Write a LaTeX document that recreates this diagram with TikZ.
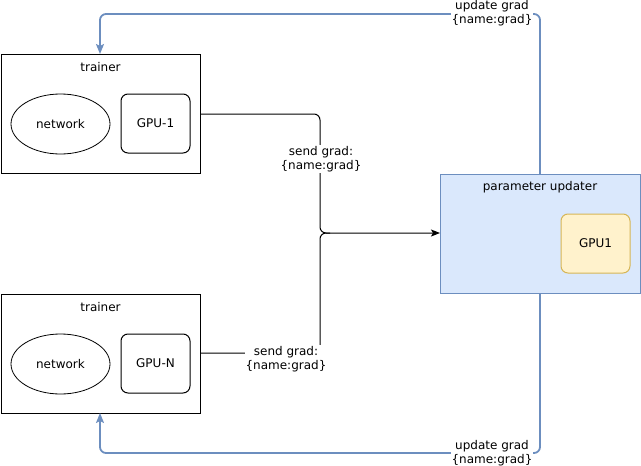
\documentclass[tikz,border=0pt]{standalone}
\usepackage{fontspec}
\setmainfont{DejaVu Sans}
\usetikzlibrary{arrows.meta}
\definecolor{blueline}{HTML}{6C8EBF}
\definecolor{bluefill}{HTML}{DAE8FC}
\definecolor{yelline}{HTML}{D6B656}
\definecolor{yelfill}{HTML}{FFF2CC}
\begin{document}
\begin{tikzpicture}[x=1pt,y=-1pt,
  every node/.style={font=\fontsize{12}{14}\selectfont, inner sep=0pt},
  box/.style={draw, line width=1pt},
  gpubox/.style={draw, rounded corners=7pt, line width=1pt},
  sendline/.style={draw, line width=1pt, rounded corners=6pt, -{Stealth[length=9pt,width=7pt,inset=2pt]}},
  updline/.style={draw=blueline, line width=1.8pt, rounded corners=6pt, -{Stealth[length=10pt,width=8pt,inset=2pt]}},
  lbl/.style={fill=white, align=center, inner sep=1pt}
]
\useasboundingbox (0,0) rectangle (641,466);
% trainer 1
\draw[box] (1,54) rectangle (200,173);
\node (t1) at (100.5,113.5) [minimum width=199pt, minimum height=119pt] {};
\node (t1title) at (100.5,67) {trainer};
\draw[line width=0.8pt] (60.5,124) ellipse (49.5pt and 30pt);
\node (net1) at (60.5,124) {network};
\draw[gpubox] (121,94) rectangle (190,153);
\node (gpu1) at (155.5,123.5) {GPU-1};
% trainer 2
\draw[box] (1,294) rectangle (200,413);
\node (t2) at (100.5,353.5) [minimum width=199pt, minimum height=119pt] {};
\node (t2title) at (100.5,307) {trainer};
\draw[line width=0.8pt] (60.5,364) ellipse (49.5pt and 30pt);
\node (net2) at (60.5,364) {network};
\draw[gpubox] (121,334) rectangle (190,393);
\node (gpun) at (155.5,363.5) {GPU-N};
% parameter updater
\draw[draw=blueline, fill=bluefill, line width=1pt] (440,174) rectangle (640,293);
\node (pu) at (540,233.5) [minimum width=200pt, minimum height=119pt] {};
\node (putitle) at (540,187) {parameter updater};
\draw[draw=yelline, fill=yelfill, rounded corners=7pt, line width=1pt] (561,214) rectangle (630,273);
\node (gpup) at (595.5,243.5) {GPU1};
% send grad edges
\coordinate (s1) at (200,114);
\coordinate (s2) at (200,353);
\coordinate (pin) at (440,233);
\draw[sendline] (s1) -- (320,114) -- (320,233) -- (pin);
\draw[line width=1pt, rounded corners=6pt] (s2) -- (320,353) -- (320,233) -- (330,233);
\node[lbl] (l1) at (321,159) {send grad:\\\{name:grad\}};
\node[lbl] (l2) at (286,359) {send grad:\\\{name:grad\}};
% update grad edges
\coordinate (u1) at (540,174);
\coordinate (u2) at (540,293);
\coordinate (t1top) at (100,54);
\coordinate (t2bot) at (100,413);
\draw[updline] (u1) -- (540,14) -- (100,14) -- (t1top);
\draw[updline] (u2) -- (540,453) -- (100,453) -- (t2bot);
\node[lbl] (l3) at (492,13) {update grad\\\{name:grad\}};
\node[lbl] (l4) at (492,453) {update grad\\\{name:grad\}};
\end{tikzpicture}
\end{document}
